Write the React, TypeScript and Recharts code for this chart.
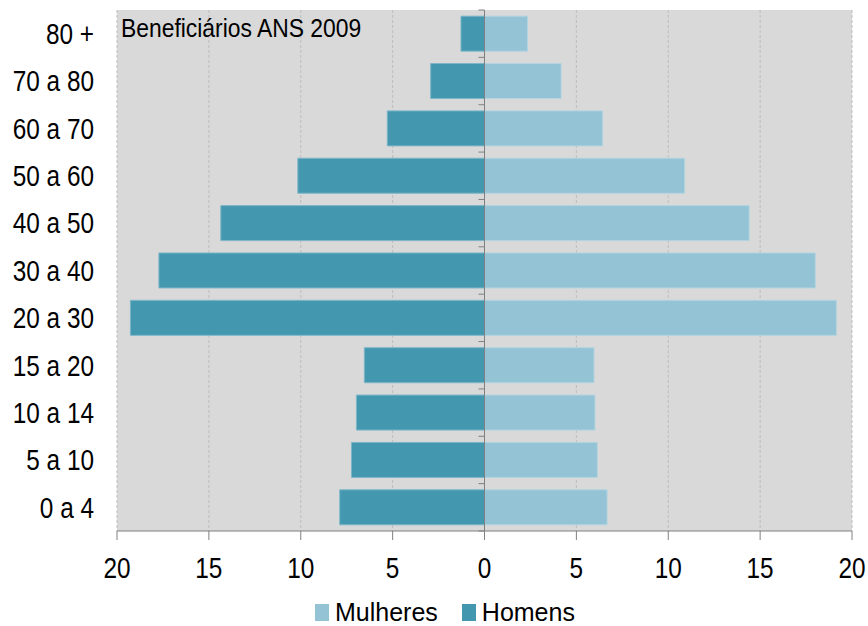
import { Bar, BarChart, XAxis, YAxis, CartesianGrid, ReferenceLine, Legend } from "recharts";

// faixas etárias, de cima para baixo
const faixas = ["80 +", "70 a 80", "60 a 70", "50 a 60", "40 a 50", "30 a 40", "20 a 30", "15 a 20", "10 a 14", "5 a 10", "0 a 4"];
const mulheres = [2.34, 4.17, 6.43, 10.89, 14.4, 18.0, 19.15, 5.96, 6.01, 6.14, 6.67];
const homens = [1.28, 2.93, 5.29, 10.16, 14.35, 17.72, 19.27, 6.54, 6.97, 7.24, 7.88];
const eixoX = [-20, -15, -10, -5, 0, 5, 10, 15, 20];

const FONTE = "'Liberation Sans', Arial, sans-serif";
const ESTREITO = 0.84; // fonte original é "narrow"
const COR_HOMENS = "#4398b0";
const COR_MULHERES = "#93c3d5";

const dados = faixas.map((faixa, i) => ({
  faixa,
  mulheres: mulheres[i],
  homens: -homens[i],
}));

function TickY(props: any) {
  const { x, y, payload } = props;
  return (
    <g transform={`translate(${x},${y}) scale(${ESTREITO},1)`}>
      <text x={0} y={0} dy="0.355em" textAnchor="end" fontSize={29} fontFamily={FONTE} fill="#000">
        {payload.value}
      </text>
    </g>
  );
}

function TickX(props: any) {
  const { x, y, payload } = props;
  return (
    <g transform={`translate(${x},${y}) scale(${ESTREITO},1)`}>
      <text x={0} y={0} dy="0.71em" textAnchor="middle" fontSize={29} fontFamily={FONTE} fill="#000">
        {Math.abs(payload.value)}
      </text>
    </g>
  );
}

// linha do zero com as marcas entre categorias
function LinhaZero(props: any) {
  const { x1, y1, x2, y2 } = props;
  const passo = (y2 - y1) / faixas.length;
  const marcas = [];
  for (let i = 0; i <= faixas.length; i++) {
    const y = y1 + passo * i;
    marcas.push(<line key={i} x1={x1 - 6} x2={x1} y1={y} y2={y} stroke="#808080" strokeWidth={1} />);
  }
  return (
    <g>
      <line x1={x1} y1={y1} x2={x2} y2={y2} stroke="#808080" strokeWidth={1} />
      {marcas}
    </g>
  );
}

function Legenda() {
  const item = (cor: string, nome: string, margem: number) => (
    <div style={{ display: "flex", alignItems: "center", marginRight: margem }}>
      <div style={{ width: 14, height: 17, background: cor, marginRight: 6 }} />
      <span style={{ fontSize: 25, lineHeight: "25px", color: "#000", fontFamily: FONTE }}>{nome}</span>
    </div>
  );
  return (
    <div style={{ display: "flex", alignItems: "center", height: 40, paddingTop: 12, boxSizing: "border-box" }}>
      {item(COR_MULHERES, "Mulheres", 24)}
      {item(COR_HOMENS, "Homens", 0)}
    </div>
  );
}

export default function App() {
  return (
    <div style={{ position: "absolute", left: 0, top: 0, background: "#fff" }}>
      <BarChart
        width={868}
        height={626}
        data={dados}
        layout="vertical"
        stackOffset="sign"
        barCategoryGap="13%"
        margin={{ top: 10, right: 16, left: 0, bottom: 0 }}
      >
        <CartesianGrid horizontal={false} fill="#d9d9d9" stroke="#bdbdbd" strokeDasharray="3 2" />
        <XAxis
          type="number"
          domain={[-20, 20]}
          ticks={eixoX}
          height={55}
          tickSize={9}
          tickMargin={17}
          stroke="#808080"
          tick={<TickX />}
        />
        <YAxis
          type="category"
          dataKey="faixa"
          width={117}
          axisLine={false}
          tickLine={false}
          tickMargin={17}
          tick={<TickY />}
        />
        <Bar dataKey="homens" stackId="a" fill={COR_HOMENS} stroke="#7db6c8" strokeWidth={1} name="Homens" isAnimationActive={false} />
        <Bar dataKey="mulheres" stackId="a" fill={COR_MULHERES} stroke="#b3d4e0" strokeWidth={1} name="Mulheres" isAnimationActive={false} />
        <ReferenceLine x={0} shape={LinhaZero} />
        <Legend
          verticalAlign="bottom"
          content={() => <Legenda />}
          wrapperStyle={{ left: 315, width: 360, height: 40, bottom: 0 }}
        />
        <g transform={`translate(121,37) scale(0.88,1)`}>
          <text x={0} y={0} fontSize={26} fontFamily={FONTE} fill="#000">
            Beneficiários ANS 2009
          </text>
        </g>
      </BarChart>
    </div>
  );
}
